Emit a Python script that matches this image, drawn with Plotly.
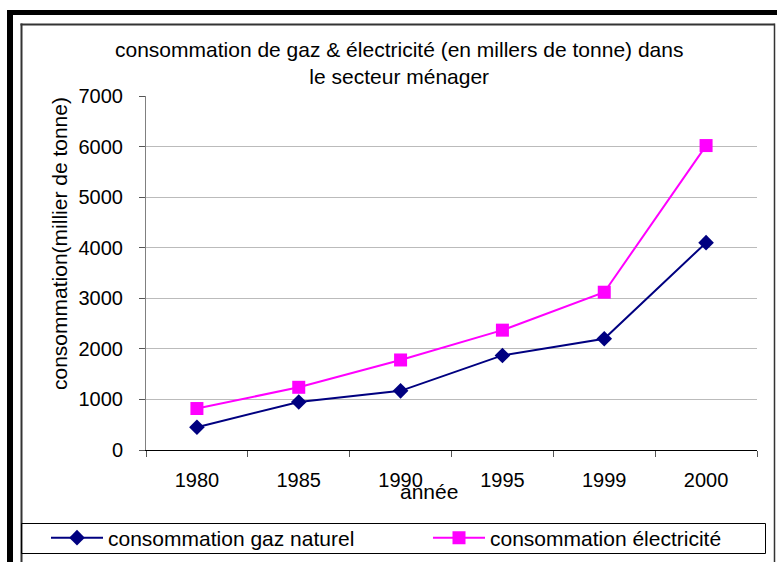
import plotly.graph_objects as go

years = ["1980", "1985", "1990", "1995", "1999", "2000"]
gaz = [450, 950, 1170, 1870, 2200, 4100]
elec = [820, 1240, 1780, 2370, 3120, 6020]
y_ticks = [0, 1000, 2000, 3000, 4000, 5000, 6000, 7000]

W, H = 777, 562
PL, PR, PT, PB = 146, 757, 96, 450          # plot area in screen pixels
L, R, T, B = PL, W - PR, PT, H - PB
PW, PH = W - L - R, H - T - B

def px(x):
    return (x - L) / PW

def py(y):
    return (H - B - y) / PH

FONT = "Liberation Sans, Arial, sans-serif"

fig = go.Figure()
fig.add_trace(go.Scatter(
    x=years, y=gaz, mode="lines+markers", name="consommation gaz naturel",
    line=dict(color="#000080", width=2),
    marker=dict(symbol="diamond", size=12, color="#000080"),
    legend="legend",
))
fig.add_trace(go.Scatter(
    x=years, y=elec, mode="lines+markers", name="consommation électricité",
    line=dict(color="#FF00FF", width=2),
    marker=dict(symbol="square", size=13, color="#FF00FF"),
    legend="legend2",
))

shapes = [
    # thick outer frame (left and top)
    dict(type="line", xref="paper", yref="paper", x0=px(10), x1=px(10), y0=py(10), y1=py(600),
         line=dict(color="black", width=6)),
    dict(type="line", xref="paper", yref="paper", x0=px(7), x1=px(800), y0=py(12.5), y1=py(12.5),
         line=dict(color="black", width=5)),
    # inner chart border
    dict(type="line", xref="paper", yref="paper", x0=px(21.5), x1=px(21.5), y0=py(23.5), y1=py(600),
         line=dict(color="#333333", width=2)),
    dict(type="line", xref="paper", yref="paper", x0=px(20.5), x1=px(774.5), y0=py(24.5), y1=py(24.5),
         line=dict(color="#333333", width=2)),
    dict(type="line", xref="paper", yref="paper", x0=px(774.5), x1=px(774.5), y0=py(23.5), y1=py(600),
         line=dict(color="#333333", width=1.5)),
    # legend box
    dict(type="rect", xref="paper", yref="paper", x0=px(21.5), x1=px(765.5), y0=py(523.5), y1=py(553.5),
         line=dict(color="black", width=1)),
]

annotations = [
    dict(text="consommation de gaz & électricité (en millers de tonne) dans<br>le secteur ménager",
         xref="paper", yref="paper", x=px(399), y=py(36), xanchor="center", yanchor="top",
         showarrow=False, font=dict(family=FONT, size=21, color="black")),
    dict(text="consommation(millier de tonne)", textangle=-90,
         xref="paper", yref="paper", x=px(59), y=py(244), xanchor="center", yanchor="middle",
         showarrow=False, font=dict(family=FONT, size=21, color="black")),
    dict(text="année", xref="paper", yref="paper", x=px(429), y=py(491),
         xanchor="center", yanchor="middle", showarrow=False,
         font=dict(family=FONT, size=21, color="black")),
]

leg_common = dict(orientation="h", yanchor="middle", xanchor="left",
                  bgcolor="rgba(0,0,0,0)", borderwidth=0, itemwidth=52,
                  font=dict(family=FONT, size=21, color="black"))

fig.update_layout(
    width=W, height=H,
    margin=dict(l=L, r=R, t=T, b=B, pad=0, autoexpand=False),
    paper_bgcolor="white", plot_bgcolor="white",
    font=dict(family=FONT, size=20, color="black"),
    showlegend=True,
    legend=dict(x=px(46), y=py(538), **leg_common),
    legend2=dict(x=px(428), y=py(538), **leg_common),
    shapes=shapes,
    annotations=annotations,
    xaxis=dict(type="category", categoryorder="array", categoryarray=years,
               range=[-0.5, len(years) - 0.5],
               showgrid=False, showline=True, linecolor="black", linewidth=1,
               ticks="outside", tickson="boundaries", ticklen=6, tickcolor="#555555",
               ticklabelstandoff=12, tickfont=dict(family=FONT, size=20),
               zeroline=False, fixedrange=True),
    yaxis=dict(range=[0, 7000], tickvals=y_ticks, showgrid=True, gridcolor="#BBBBBB", gridwidth=1,
               showline=True, linecolor="#808080", linewidth=1,
               ticks="outside", ticklen=6, tickcolor="#555555",
               ticklabelstandoff=12, tickfont=dict(family=FONT, size=20),
               zeroline=False, fixedrange=True),
)

fig.write_html("out.html", config={"displayModeBar": False},
               post_script="document.body.style.margin='0';document.body.style.overflow='hidden';")
